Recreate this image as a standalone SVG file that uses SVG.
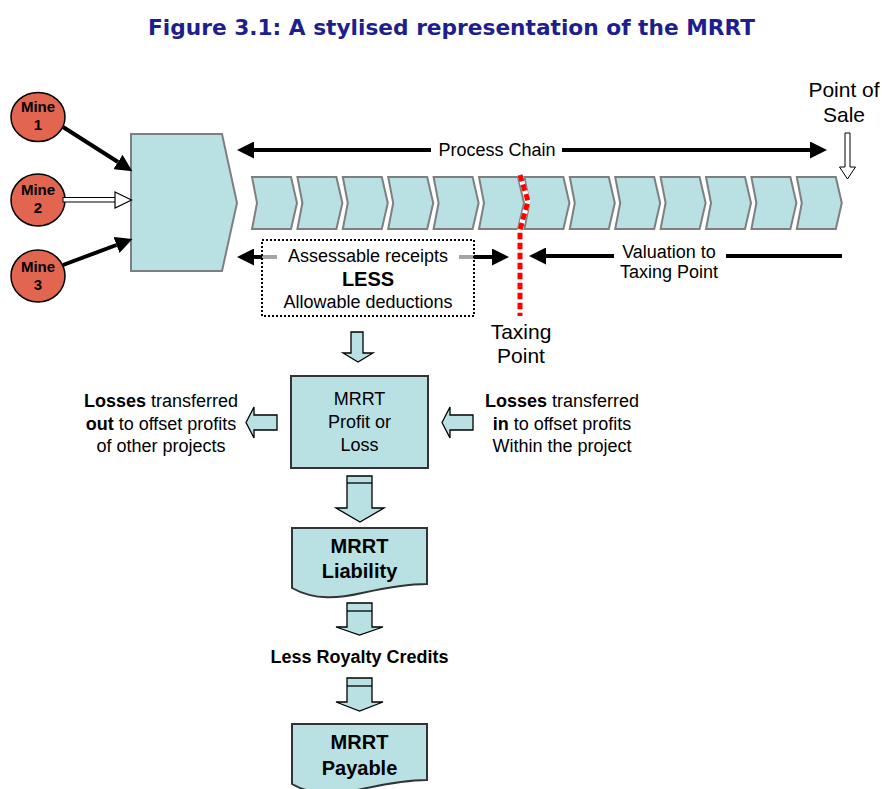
<svg xmlns="http://www.w3.org/2000/svg" width="882" height="789" viewBox="0 0 882 789">
<style>
text{font-family:"Liberation Sans",Arial,sans-serif;fill:#000}
.t18{font-size:18px;text-anchor:middle}
.t21{font-size:21px;text-anchor:middle}
.b{font-weight:bold}
.mine{font-size:15px;font-weight:bold;text-anchor:middle}
.mineC{fill:#e2664f;stroke:#000;stroke-width:1.5}
.chev{fill:#b9e0e3;stroke:#7f7f7f;stroke-width:2}
.box{fill:#b9e0e3;stroke:#333;stroke-width:2}
.blk{fill:#b9e0e3;stroke:#000;stroke-width:1.3}
.thick{stroke:#000;stroke-width:4;fill:none}
.title{font-family:"DejaVu Sans",Verdana,sans-serif;font-size:22px;font-weight:bold;fill:#1e1e8c;text-anchor:middle}
</style>
<defs>
<marker id="ah" markerUnits="userSpaceOnUse" markerWidth="17" markerHeight="17" refX="0" refY="8.5" orient="auto-start-reverse" viewBox="0 0 17 17">
<path d="M0,0 L17,8.5 L0,17 Z" fill="#000"/>
</marker>
</defs>
<rect width="882" height="789" fill="#fff"/>
<text class="title" x="451.5" y="35" textLength="607" lengthAdjust="spacingAndGlyphs">Figure 3.1: A stylised representation of the MRRT</text>

<g id="mine1"><ellipse class="mineC" cx="38" cy="117" rx="27" ry="24.5"/><text class="mine" x="38" y="112">Mine</text><text class="mine" x="38" y="130">1</text></g>
<g id="mine2"><ellipse class="mineC" cx="38" cy="200" rx="27" ry="26"/><text class="mine" x="38" y="195">Mine</text><text class="mine" x="38" y="213">2</text></g>
<g id="mine3"><ellipse class="mineC" cx="38" cy="276" rx="27" ry="26"/><text class="mine" x="38" y="272">Mine</text><text class="mine" x="38" y="290">3</text></g>

<g id="start-stage"><path class="chev" d="M131,134 H222 L237,203 L222,271 H131 Z"/></g>

<g id="process-chain">
<path class="chev" d="M252,177 h39 l6,26 l-6,26 h-39 l5,-26 Z"/>
<path class="chev" d="M297.4,177 h39 l6,26 l-6,26 h-39 l5,-26 Z"/>
<path class="chev" d="M342.8,177 h39 l6,26 l-6,26 h-39 l5,-26 Z"/>
<path class="chev" d="M388.2,177 h39 l6,26 l-6,26 h-39 l5,-26 Z"/>
<path class="chev" d="M433.6,177 h39 l6,26 l-6,26 h-39 l5,-26 Z"/>
<path class="chev" d="M479,177 h39 l6,26 l-6,26 h-39 l5,-26 Z"/>
<path class="chev" d="M524.4,177 h39 l6,26 l-6,26 h-39 l5,-26 Z"/>
<path class="chev" d="M569.8,177 h39 l6,26 l-6,26 h-39 l5,-26 Z"/>
<path class="chev" d="M615.2,177 h39 l6,26 l-6,26 h-39 l5,-26 Z"/>
<path class="chev" d="M660.6,177 h39 l6,26 l-6,26 h-39 l5,-26 Z"/>
<path class="chev" d="M706,177 h39 l6,26 l-6,26 h-39 l5,-26 Z"/>
<path class="chev" d="M751.4,177 h39 l6,26 l-6,26 h-39 l5,-26 Z"/>
<path class="chev" d="M796.8,177 h39 l6,26 l-6,26 h-39 l5,-26 Z"/>
</g>

<g id="connectors">
<line class="thick" x1="63" y1="127" x2="118" y2="162" marker-end="url(#ah)"/>
<line class="thick" x1="63" y1="265" x2="116.5" y2="245" marker-end="url(#ah)"/>
<rect x="63" y="197.5" width="54" height="4.5" fill="#fff" stroke="#000" stroke-width="1"/>
<path d="M115,192 L131.5,200 L115,208 Z" fill="#fff" stroke="#000" stroke-width="1.2"/>
<line class="thick" x1="254" y1="150" x2="431" y2="150" marker-start="url(#ah)"/>
<line class="thick" x1="562" y1="150" x2="810" y2="150" marker-end="url(#ah)"/>
<path d="M845,133 H850 V167 H855.5 L847.5,179 L839.5,167 H845 Z" fill="#fff" stroke="#000" stroke-width="1"/>
<line class="thick" x1="254" y1="257" x2="492" y2="257" marker-start="url(#ah)" marker-end="url(#ah)"/>
<line class="thick" x1="546" y1="256" x2="614" y2="256" marker-start="url(#ah)"/>
<line class="thick" x1="726" y1="256" x2="842" y2="256"/>
<path d="M520,175 L528,201 L520,230 L520,316" fill="none" stroke="#fff" stroke-width="5"/>
<path d="M520,175 L528,201 L520,230 L520,316" fill="none" stroke="#f00" stroke-width="5" stroke-dasharray="6.5,3.5"/>
<path class="blk" d="M351,332 H363 V353 H373 L358,362 L343,353 H351 Z"/>
<path class="blk" d="M246,422.5 L254,407 V415 H277 V430 H254 V438 Z"/>
<path class="blk" d="M442,422.5 L450,407 V415 H473 V430 H450 V438 Z"/>
<path class="blk" d="M347,476 H372 V508 H384 L360,522 L336,508 H347 Z"/>
<line x1="347" y1="483" x2="372" y2="483" stroke="#000" stroke-width="1.3"/>
<path class="blk" d="M347,603 H372 V627 H383 L359.5,635 L336,627 H347 Z"/>
<line x1="347" y1="611" x2="372" y2="611" stroke="#000" stroke-width="1.3"/>
<path class="blk" d="M347,678 H372 V702 H383 L359.5,711 L336,702 H347 Z"/>
<line x1="347" y1="686" x2="372" y2="686" stroke="#000" stroke-width="1.3"/>
</g>

<g id="process-chain-label"><text class="t18" x="497" y="156">Process Chain</text></g>
<g id="point-of-sale"><text class="t21" x="844" y="97">Point of</text><text class="t21" x="844" y="122">Sale</text></g>

<g id="receipts-box">
<rect x="262" y="240" width="212" height="76" fill="#fff" fill-opacity="0.65" stroke="#000" stroke-width="2" stroke-dasharray="2,2"/>
<rect x="277" y="249" width="182" height="16" fill="#fff"/>
<text class="t18" x="368" y="262">Assessable receipts</text>
<text class="t18 b" x="368" y="286" style="font-size:20px">LESS</text>
<text class="t18" x="368" y="308">Allowable deductions</text>
</g>

<g id="valuation-label"><text class="t18" x="669" y="258">Valuation to</text><text class="t18" x="669" y="278">Taxing Point</text></g>
<g id="taxing-point"><text class="t21" x="521" y="339">Taxing</text><text class="t21" x="521" y="363">Point</text></g>

<g id="profit-loss">
<rect class="box" x="291" y="376" width="137" height="92"/>
<text class="t18" x="359.5" y="405">MRRT</text>
<text class="t18" x="359.5" y="428">Profit or</text>
<text class="t18" x="359.5" y="451">Loss</text>
</g>

<g id="losses-out">
<text class="t18" x="161" y="407"><tspan class="b">Losses</tspan> transferred</text>
<text class="t18" x="161" y="430"><tspan class="b">out</tspan> to offset profits</text>
<text class="t18" x="161" y="452">of other projects</text>
</g>
<g id="losses-in">
<text class="t18" x="562" y="407"><tspan class="b">Losses</tspan> transferred</text>
<text class="t18" x="562" y="430"><tspan class="b">in</tspan> to offset profits</text>
<text class="t18" x="562" y="452">Within the project</text>
</g>

<g id="liability">
<path class="box" d="M292,528 H427 V584 C405,584 385,588 362,593 C340,598 315,601 292,588 Z"/>
<text class="t18 b" x="359.5" y="553" style="font-size:20px">MRRT</text>
<text class="t18 b" x="359.5" y="578" style="font-size:20px">Liability</text>
</g>

<g id="royalty"><text class="t18 b" x="359.5" y="663">Less Royalty Credits</text></g>

<g id="payable">
<path class="box" d="M292,724 H427 V780 C405,780 385,784 362,789 C340,794 315,797 292,784 Z"/>
<text class="t18 b" x="359.5" y="749" style="font-size:20px">MRRT</text>
<text class="t18 b" x="359.5" y="775" style="font-size:20px">Payable</text>
</g>
</svg>
